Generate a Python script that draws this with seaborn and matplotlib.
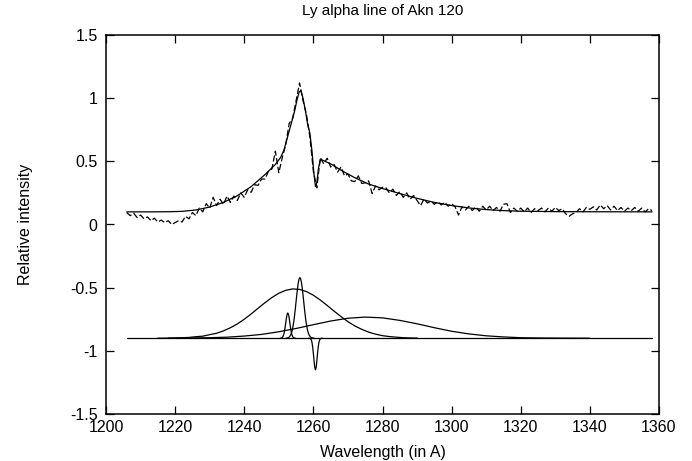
import numpy as np
import pandas as pd
import matplotlib
matplotlib.use("Agg")
import matplotlib.pyplot as plt
from matplotlib.ticker import FormatStrFormatter
import seaborn as sns

# ---------------- data ----------------
title = "Ly alpha line of Akn 120"
x_label = "Wavelength (in A)"
y_label = "Relative intensity"
x_ticks = [1200, 1220, 1240, 1260, 1280, 1300, 1320, 1340, 1360]
y_ticks = [-1.5, -1.0, -0.5, 0.0, 0.5, 1.0, 1.5]

# observed spectrum, sampled every 1 A from 1206 A
obs_start = 1206
obs_step = 1.0
obs_y = [
    0.095, 0.070, 0.090, 0.055, 0.075, 0.045, 0.060, 0.030, 0.050, 0.020,   # 1206-1215
    0.035, 0.015, 0.030, 0.000, 0.015, 0.030, 0.020, 0.065, 0.045, 0.095,   # 1216-1225
    0.070, 0.130, 0.100, 0.165, 0.130, 0.215, 0.150, 0.200, 0.160, 0.225,   # 1226-1235
    0.175, 0.225, 0.190, 0.250, 0.215, 0.275, 0.255, 0.315, 0.310, 0.360,   # 1236-1245
    0.360, 0.420, 0.440, 0.580, 0.410, 0.530, 0.630, 0.800, 0.840, 0.980,   # 1246-1255
    1.120, 0.980, 0.870, 0.690, 0.420, 0.290, 0.530, 0.480, 0.525, 0.455,   # 1256-1265
    0.475, 0.415, 0.455, 0.385, 0.400, 0.345, 0.340, 0.385, 0.325, 0.330,   # 1266-1275
    0.345, 0.245, 0.305, 0.275, 0.295, 0.290, 0.250, 0.280, 0.230, 0.260,   # 1276-1285
    0.215, 0.250, 0.200, 0.230, 0.190, 0.150, 0.200, 0.170, 0.185, 0.160,   # 1286-1295
    0.180, 0.155, 0.175, 0.145, 0.165, 0.140, 0.075, 0.140, 0.115, 0.145,   # 1296-1305
    0.110, 0.140, 0.105, 0.145, 0.115, 0.145, 0.110, 0.135, 0.105, 0.160,   # 1306-1315
    0.165, 0.095, 0.130, 0.105, 0.130, 0.100, 0.130, 0.095, 0.125, 0.110,   # 1316-1325
    0.130, 0.100, 0.130, 0.105, 0.135, 0.110, 0.125, 0.085, 0.065, 0.085,   # 1326-1335
    0.095, 0.125, 0.100, 0.135, 0.120, 0.140, 0.115, 0.155, 0.125, 0.150,   # 1336-1345
    0.115, 0.145, 0.110, 0.135, 0.105, 0.130, 0.110, 0.135, 0.105, 0.130,   # 1346-1355
    0.100, 0.125, 0.110,                                                    # 1356-1358
]

# total fit
fit_x = [1206, 1212, 1218, 1222, 1226, 1230, 1234, 1238, 1242, 1246, 1249,
         1250.5, 1251.5, 1252.5, 1253.5, 1254.5, 1255.3, 1255.9, 1256.4,
         1257.0, 1257.7, 1258.3, 1259.0, 1259.6, 1260.1, 1260.6, 1261.0,
         1261.5, 1262.1, 1263, 1265, 1268, 1272, 1276, 1280, 1285, 1290,
         1295, 1300, 1305, 1310, 1315, 1320, 1330, 1340, 1358]
fit_y = [0.100, 0.100, 0.101, 0.104, 0.115, 0.138, 0.175, 0.228, 0.300, 0.395, 0.475,
         0.530, 0.590, 0.690, 0.790, 0.890, 0.990, 1.050, 1.060,
         1.000, 0.900, 0.800, 0.720, 0.580, 0.420, 0.300, 0.330,
         0.450, 0.515, 0.505, 0.480, 0.430, 0.370, 0.320, 0.285, 0.245, 0.207,
         0.175, 0.150, 0.131, 0.118, 0.110, 0.105, 0.102, 0.101, 0.100]

# components (shifted to the -0.9 baseline)
base_x = [1206, 1358]
base_y = [-0.9, -0.9]

broad1_x = [1218, 1220, 1222, 1224, 1226, 1228, 1230, 1232, 1234, 1236, 1238, 1240,
            1242, 1244, 1246, 1248, 1250, 1252, 1254, 1256, 1258, 1260, 1262, 1264,
            1266, 1268, 1270, 1272, 1274, 1276, 1278, 1280, 1282, 1284, 1286, 1288, 1290]
broad1_y = [-0.899, -0.898, -0.896, -0.894, -0.888, -0.884, -0.872, -0.861, -0.842, -0.817,
            -0.787, -0.750, -0.708, -0.663, -0.619, -0.578, -0.544, -0.521, -0.510, -0.514,
            -0.531, -0.560, -0.598, -0.641, -0.686, -0.729, -0.769, -0.803, -0.830, -0.852,
            -0.868, -0.880, -0.887, -0.892, -0.896, -0.898, -0.899]

broad2_x = [1215, 1220, 1225, 1230, 1235, 1240, 1245, 1250, 1255, 1260, 1265, 1270,
            1275, 1280, 1285, 1290, 1295, 1300, 1305, 1310, 1315, 1320, 1325, 1330, 1340]
broad2_y = [-0.900, -0.899, -0.898, -0.896, -0.892, -0.883, -0.870, -0.849, -0.823, -0.793,
            -0.764, -0.742, -0.733, -0.739, -0.759, -0.786, -0.817, -0.845, -0.866, -0.881,
            -0.890, -0.896, -0.898, -0.899, -0.900]

narrow1_x = [1252.10, 1252.35, 1252.60, 1252.85, 1253.10, 1253.35, 1253.60, 1253.85,
             1254.10, 1254.35, 1254.60, 1254.85, 1255.10, 1255.35, 1255.60, 1255.85,
             1256.10, 1256.35, 1256.60, 1256.85, 1257.10, 1257.35, 1257.60, 1257.85,
             1258.10, 1258.35, 1258.60, 1258.85, 1259.10, 1259.35, 1259.60, 1259.85, 1260.10]
narrow1_y = [-0.899, -0.899, -0.897, -0.894, -0.888, -0.879, -0.864, -0.841,
             -0.808, -0.765, -0.711, -0.648, -0.582, -0.519, -0.467, -0.432,
             -0.420, -0.432, -0.467, -0.519, -0.582, -0.648, -0.711, -0.765,
             -0.808, -0.841, -0.864, -0.879, -0.888, -0.894, -0.897, -0.899, -0.899]

narrow2_x = [1250.4, 1250.6, 1250.8, 1251.0, 1251.2, 1251.4, 1251.6, 1251.8, 1252.0,
             1252.2, 1252.4, 1252.6, 1252.8, 1253.0, 1253.2, 1253.4, 1253.6, 1253.8,
             1254.0, 1254.2, 1254.4, 1254.6, 1254.8]
narrow2_y = [-0.900, -0.899, -0.898, -0.894, -0.887, -0.873, -0.850, -0.818, -0.779,
             -0.740, -0.711, -0.700, -0.711, -0.740, -0.779, -0.818, -0.850, -0.873,
             -0.887, -0.894, -0.898, -0.899, -0.900]

absorb_x = [1258.6, 1258.8, 1259.0, 1259.2, 1259.4, 1259.6, 1259.8, 1260.0, 1260.2,
            1260.4, 1260.6, 1260.8, 1261.0, 1261.2, 1261.4, 1261.6, 1261.8, 1262.0,
            1262.2, 1262.4, 1262.6]
absorb_y = [-0.900, -0.900, -0.902, -0.905, -0.914, -0.934, -0.970, -1.022, -1.081,
            -1.131, -1.150, -1.131, -1.081, -1.022, -0.970, -0.934, -0.914, -0.905,
            -0.902, -0.900, -0.900]

# ---------------- plotting ----------------
sns.set_theme(style="ticks")
plt.rcParams["font.family"] = ["Liberation Sans", "DejaVu Sans"]
plt.rcParams["axes.unicode_minus"] = False

W, H = 692, 461
fig = plt.figure(figsize=(W / 100, H / 100), dpi=100)
ax = fig.add_axes([106 / W, 1 - 414 / H, 553 / W, 379 / H])

obs_x = obs_start + obs_step * np.arange(len(obs_y))
obs = pd.DataFrame({"wavelength": obs_x, "intensity": obs_y})

lw = 0.9
sns.lineplot(data=obs, x="wavelength", y="intensity", ax=ax, color="black",
             linewidth=lw, linestyle=(0, (5, 2)), estimator=None, sort=False)
for xs, ys in [(fit_x, fit_y), (base_x, base_y), (broad1_x, broad1_y),
               (broad2_x, broad2_y), (narrow1_x, narrow1_y),
               (narrow2_x, narrow2_y), (absorb_x, absorb_y)]:
    sns.lineplot(x=xs, y=ys, ax=ax, color="black", linewidth=lw,
                 estimator=None, sort=False)

fs = 11.5
ax.set_xlim(1200, 1360)
ax.set_ylim(-1.5, 1.5)
ax.set_xticks(x_ticks)
ax.set_yticks(y_ticks)
ax.yaxis.set_major_formatter(FormatStrFormatter("%g"))
ax.tick_params(axis="both", direction="in", length=6, width=0.9, top=True,
               right=True, labelsize=fs, colors="black")
ax.tick_params(axis="x", pad=4)
ax.tick_params(axis="y", pad=6)
for sp in ax.spines.values():
    sp.set_visible(True)
    sp.set_linewidth(1.1)
    sp.set_color("black")

ax.set_title(title, fontsize=11, pad=14.5, color="black")
ax.set_xlabel(x_label, fontsize=fs, labelpad=7.5, color="black")
ax.set_ylabel(y_label, fontsize=fs, labelpad=27, color="black")

fig.savefig("out.png", dpi=100)
